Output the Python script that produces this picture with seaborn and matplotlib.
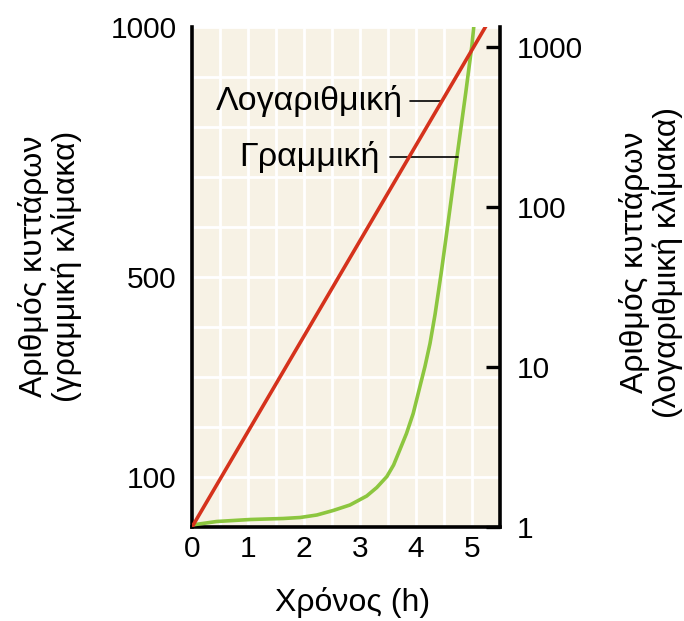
import numpy as np
import pandas as pd
import matplotlib
matplotlib.use("Agg")
import matplotlib.pyplot as plt
import seaborn as sns

# ---- data ----
lin_time = [0.0, 0.44, 1.04, 1.63, 1.93, 2.23, 2.52, 2.82, 3.12, 3.30, 3.48, 3.60,
            3.71, 3.83, 3.95, 4.07, 4.16, 4.25, 4.34, 4.45, 4.56, 4.67, 4.78, 4.89,
            5.00, 5.04]
lin_cells = [4, 11, 15, 17, 19, 24, 33, 44, 62, 79, 101, 124,
             154, 187, 227, 281, 321, 367, 425, 508, 598, 690, 780, 870,
             965, 1010]

log_time = [0.0, 5.25]
log_cells = [1, 1350]

x_major = [0, 1, 2, 3, 4, 5]
left_ticks = [100, 500, 1000]
right_ticks = [1, 10, 100, 1000]
right_labels = ["1", "10", "100", "1000"]

label_log = "Λογαριθμική"
label_lin = "Γραμμική"
left_ylabel = "Αριθμός κυττάρων\n(γραμμική κλίμακα)"
right_ylabel = "Αριθμός κυττάρων\n(λογαριθμική κλίμακα)"
xlabel = "Χρόνος (h)"

RED = "#d5321c"
GREEN = "#8cc63f"
BG = "#f7f2e5"

sns.set_style("white")
plt.rcParams["font.family"] = ["Liberation Sans", "DejaVu Sans"]
for k in ["text.color", "axes.labelcolor", "xtick.color", "ytick.color"]:
    plt.rcParams[k] = "black"

fig = plt.figure(figsize=(6.84, 6.21), dpi=100)
ax = fig.add_axes([192 / 684, 1 - 527 / 621, 308 / 684, 500 / 621])
ax.set_facecolor(BG)

df_lin = pd.DataFrame({"t": lin_time, "n": lin_cells})
df_log = pd.DataFrame({"t": log_time, "n": log_cells})

sns.lineplot(data=df_lin, x="t", y="n", ax=ax, color=GREEN, linewidth=2.6, zorder=5)
ax.set_xlim(0, 5.5)
ax.set_ylim(0, 1000)

ax.set_xticks(x_major)
ax.set_xticks(np.arange(0.5, 5.5, 0.5), minor=True)
ax.set_yticks(left_ticks)
ax.set_yticks(np.arange(100, 1000, 100), minor=True)
ax.grid(True, which="both", color="white", linewidth=2.0)
ax.set_axisbelow(True)
ax.tick_params(axis="both", which="both", length=0)
ax.tick_params(axis="x", labelsize=21.5, pad=6)
ax.tick_params(axis="y", labelsize=21.5, pad=11)
ax.set_xlabel("")
ax.set_ylabel("")

for s in ["left", "bottom"]:
    ax.spines[s].set_linewidth(2.6)
    ax.spines[s].set_color("black")
ax.spines["top"].set_visible(False)
ax.spines["right"].set_visible(False)

ax2 = ax.twinx()
sns.lineplot(data=df_log, x="t", y="n", ax=ax2, color=RED, linewidth=2.6, zorder=6)
ax2.set_yscale("log")
ax2.set_ylim(1, 1330)
ax2.set_xlim(0, 5.5)
ax2.set_yticks(right_ticks)
ax2.set_yticklabels(right_labels)
ax2.yaxis.set_minor_locator(matplotlib.ticker.NullLocator())
ax2.tick_params(axis="y", direction="in", length=10, width=2.4, labelsize=21.5, pad=12)
ax2.set_ylabel("")
ax2.set_xlabel("")
for s in ["left", "bottom", "top"]:
    ax2.spines[s].set_visible(False)
ax2.spines["right"].set_linewidth(2.6)
ax2.spines["right"].set_color("black")

# annotations (in primary axes data coords)
ax.plot([3.89, 4.46], [852, 852], color="black", linewidth=1.2, zorder=7)
ax.text(3.77, 852, label_log, ha="right", va="center", fontsize=24.5, zorder=8)
ax.plot([3.54, 4.75], [740, 740], color="black", linewidth=1.2, zorder=7)
ax.text(3.36, 740, label_lin, ha="right", va="center", fontsize=24.5, zorder=8)

fig.text(50 / 684, 1 - 266 / 621, left_ylabel, rotation=90, ha="center", va="center",
         fontsize=23, linespacing=1.05)
fig.text(651 / 684, 1 - 262 / 621, right_ylabel, rotation=90, ha="center", va="center",
         fontsize=23, linespacing=1.05)
fig.text(353 / 684, 1 - 603 / 621, xlabel, ha="center", va="center", fontsize=23)

fig.savefig("out.png", dpi=100)
